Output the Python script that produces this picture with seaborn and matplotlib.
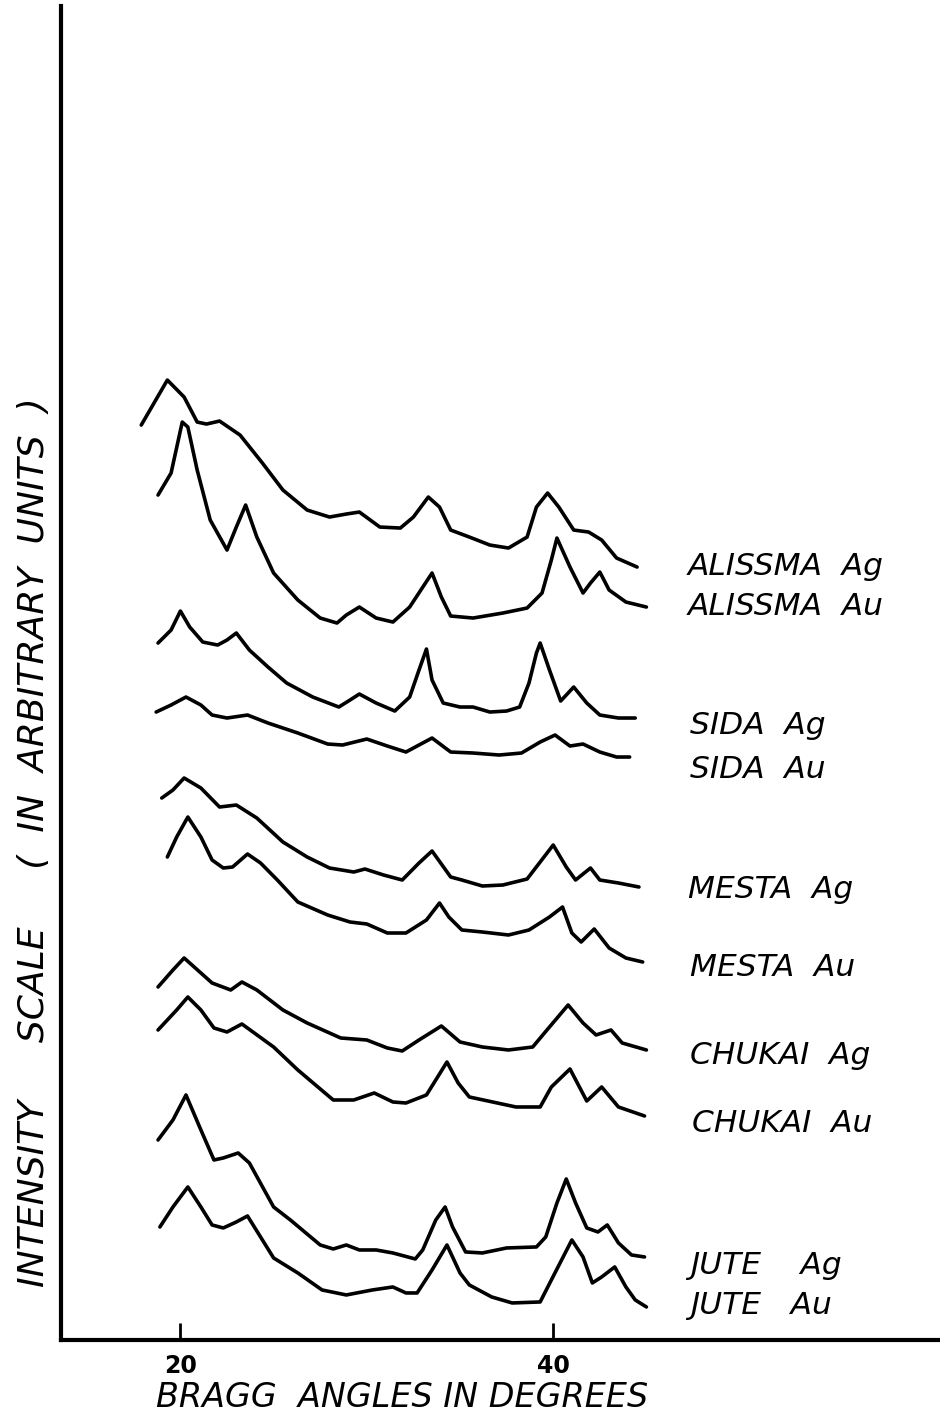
import numpy as np
import pandas as pd
import seaborn as sns
import matplotlib.pyplot as plt

sns.set_theme(style="white")
plt.rcParams['font.family'] = ['DejaVu Sans']
plt.rcParams['text.color'] = 'black'
plt.rcParams['axes.labelcolor'] = 'black'
plt.rcParams['xtick.color'] = 'black'

# Bragg Angle (Degrees) And Intensity (Arbitrary Units)
alissma_ag_angle = [17.9, 19.3, 20.2, 20.9, 21.4, 22.1, 23.2, 24.4, 25.5, 26.8, 28.0, 28.9, 29.6, 30.7, 31.8,
                    32.5, 33.3, 33.9, 34.5, 35.5, 36.6, 37.6, 38.6, 39.1, 39.7, 40.3, 41.1, 41.9, 42.6, 43.4, 44.5]
alissma_ag_int = [888, 933, 916, 891, 889, 892, 878, 850, 823, 803, 796, 799, 801, 786, 785,
                  796, 816, 806, 783, 776, 768, 765, 776, 806, 820, 806, 783, 781, 773, 755, 746]

alissma_au_angle = [18.8, 19.5, 20.1, 20.4, 20.9, 21.6, 22.5, 23.0, 23.5, 24.1, 25.0, 26.3, 27.5, 28.4, 28.9,
                    29.6, 30.5, 31.4, 32.3, 33.5, 34.0, 34.5, 35.7, 37.3, 38.6, 39.4, 39.9, 40.2, 40.9, 41.6,
                    42.0, 42.5, 43.0, 43.9, 45.0]
alissma_au_int = [818, 840, 891, 886, 843, 793, 763, 786, 808, 776, 740, 713, 695, 690, 698,
                  706, 695, 691, 706, 740, 716, 697, 695, 700, 705, 720, 753, 775, 746, 720,
                  730, 741, 723, 711, 706]

sida_ag_angle = [18.8, 19.5, 20.0, 20.5, 21.2, 22.0, 22.5, 23.0, 23.7, 24.7, 25.7, 27.1, 28.5, 29.1, 29.6,
                 30.5, 31.5, 32.3, 32.8, 33.2, 33.5, 34.1, 35.0, 35.7, 36.6, 37.5, 38.2, 38.7, 39.1, 39.3,
                 39.8, 40.4, 41.1, 41.8, 42.5, 43.5, 44.4]
sida_ag_int = [670, 683, 702, 686, 671, 668, 673, 680, 663, 646, 630, 616, 606, 613, 619,
               610, 602, 616, 643, 664, 633, 610, 606, 606, 601, 602, 606, 630, 660, 670,
               643, 612, 626, 610, 598, 595, 595]

sida_au_angle = [18.7, 19.5, 20.3, 21.1, 21.7, 22.5, 23.6, 24.7, 26.3, 27.9, 28.7, 30.0, 31.1, 32.1, 32.8,
                 33.5, 34.5, 35.7, 37.1, 38.3, 39.3, 40.1, 40.9, 41.6, 42.5, 43.4, 44.1]
sida_au_int = [601, 608, 616, 608, 598, 595, 598, 590, 580, 569, 568, 574, 567, 561, 568,
               575, 561, 560, 558, 560, 571, 578, 567, 569, 561, 556, 556]

mesta_ag_angle = [19.0, 19.6, 20.2, 21.1, 22.1, 23.0, 24.1, 25.5, 26.8, 28.0, 29.3, 29.9, 30.9, 31.9, 32.8,
                  33.5, 34.5, 35.1, 36.2, 37.3, 38.6, 39.3, 40.0, 40.7, 41.2, 42.0, 42.5, 43.5, 44.6]
mesta_ag_int = [515, 523, 535, 525, 506, 508, 495, 471, 456, 445, 441, 444, 438, 433, 450,
                462, 436, 433, 427, 428, 434, 451, 468, 446, 433, 445, 433, 430, 426]

mesta_au_angle = [19.3, 19.8, 20.4, 21.1, 21.7, 22.3, 22.8, 23.6, 24.3, 25.2, 26.3, 27.9, 29.1, 30.0, 31.1,
                  32.1, 33.2, 33.9, 34.4, 35.1, 36.2, 37.6, 38.7, 39.8, 40.5, 41.0, 41.5, 42.2, 43.0, 43.9,
                  44.8]
mesta_au_int = [456, 476, 496, 476, 453, 445, 446, 459, 450, 433, 411, 398, 391, 389, 380,
                380, 393, 410, 396, 383, 381, 378, 383, 396, 406, 380, 371, 384, 365, 355,
                351]

chukai_ag_angle = [18.8, 19.6, 20.2, 21.1, 21.7, 22.7, 23.3, 24.1, 25.5, 26.8, 28.6, 30.0, 31.1, 31.9, 32.8,
                   34.0, 35.0, 36.2, 37.6, 38.9, 39.8, 40.8, 41.6, 42.3, 43.1, 43.7, 45.0]
chukai_ag_int = [326, 343, 355, 340, 330, 323, 331, 323, 303, 290, 275, 273, 265, 262, 273,
                 287, 271, 266, 263, 266, 286, 308, 290, 278, 283, 270, 263]

chukai_au_angle = [18.8, 19.8, 20.4, 21.1, 21.8, 22.5, 23.3, 25.0, 26.3, 28.2, 29.3, 30.4, 31.4, 32.1, 33.2,
                   33.7, 34.3, 34.9, 35.5, 37.0, 38.0, 39.3, 39.9, 40.9, 41.8, 42.6, 43.5, 44.9]
chukai_au_int = [283, 303, 316, 303, 285, 281, 289, 266, 243, 213, 213, 220, 211, 210, 218,
                 233, 251, 230, 216, 210, 206, 206, 226, 244, 212, 226, 206, 197]

jute_ag_angle = [18.8, 19.6, 20.3, 21.1, 21.8, 22.3, 23.1, 23.7, 25.0, 25.9, 27.5, 28.2, 28.9, 29.6, 30.5,
                 31.4, 32.6, 33.0, 33.7, 34.2, 34.6, 35.3, 36.2, 37.5, 39.1, 39.6, 40.2, 40.7, 41.2, 41.8,
                 42.4, 42.9, 43.5, 44.2, 44.9]
jute_ag_int = [173, 193, 218, 183, 153, 155, 160, 150, 106, 93, 68, 64, 68, 63, 63,
               60, 54, 63, 93, 106, 86, 61, 60, 65, 66, 76, 110, 134, 110, 85,
               81, 88, 70, 58, 56]

jute_au_angle = [18.9, 19.6, 20.4, 21.1, 21.7, 22.3, 23.0, 23.6, 24.3, 25.0, 26.3, 27.6, 28.9, 30.3, 31.4,
                 32.1, 32.7, 33.5, 34.3, 35.0, 35.5, 36.7, 37.8, 39.3, 39.9, 41.0, 41.6, 42.1, 42.6, 43.3,
                 43.9, 44.4, 45.0]
jute_au_int = [86, 106, 126, 106, 88, 85, 91, 97, 76, 55, 40, 23, 18, 23, 26,
               20, 20, 43, 68, 40, 28, 16, 10, 11, 33, 73, 56, 30, 36, 46,
               26, 13, 6]

samples = ["ALISSMA  Ag", "ALISSMA  Au", "SIDA  Ag", "SIDA  Au", "MESTA  Ag",
           "MESTA  Au", "CHUKAI  Ag", "CHUKAI  Au", "JUTE    Ag", "JUTE   Au"]

traces = [(alissma_ag_angle, alissma_ag_int), (alissma_au_angle, alissma_au_int),
          (sida_ag_angle, sida_ag_int), (sida_au_angle, sida_au_int),
          (mesta_ag_angle, mesta_ag_int), (mesta_au_angle, mesta_au_int),
          (chukai_ag_angle, chukai_ag_int), (chukai_au_angle, chukai_au_int),
          (jute_ag_angle, jute_ag_int), (jute_au_angle, jute_au_int)]

# Long Table For Seaborn
frames = []
for name, (a, i) in zip(samples, traces):
    frames.append(pd.DataFrame({"angle": a, "intensity": i, "sample": name}))
df = pd.concat(frames, ignore_index = True)

# Set Up The Figure (940 x 1416 px)
fig = plt.figure(figsize = (9.4, 14.16), dpi = 100)
ax = fig.add_axes([0.065, 0.0537, 0.935, 0.942])

sns.lineplot(data = df, x = "angle", y = "intensity", units = "sample", estimator = None,
             sort = False, color = "black", linewidth = 2.6, ax = ax,
             solid_joinstyle = "round", solid_capstyle = "round")

ax.set_xlim(13.6, 60.75)
ax.set_ylim(-27, 1307)

# Spines: Only Left And Bottom, Drawn Heavy
for s in ["top", "right"]:
    ax.spines[s].set_visible(False)
for s in ["left", "bottom"]:
    ax.spines[s].set_linewidth(3)
    ax.spines[s].set_color("black")

ax.set_xticks([20, 40])
ax.set_xticklabels(["20", "40"], fontsize = 17, fontweight = "bold")
ax.tick_params(axis = "x", direction = "in", length = 12, width = 2, color = "black", pad = 10,
               bottom = True)
ax.set_yticks([])

ax.set_xlabel("BRAGG  ANGLES IN DEGREES", fontsize = 24, style = "italic")
ax.xaxis.set_label_coords(0.388, -0.031)
ax.set_ylabel("INTENSITY     SCALE     (  IN  ARBITRARY  UNITS  )", fontsize = 26, style = "italic")
ax.yaxis.set_label_coords(-0.012, 0.373)

# Curve Labels
label_x = [47.2, 47.2, 47.35, 47.35, 47.25, 47.35, 47.35, 47.45, 47.35, 47.35]
label_y = [738, 698, 579, 535, 415, 337, 249, 181, 39, -1]
for name, lx, ly in zip(samples, label_x, label_y):
    ax.text(lx, ly, name, fontsize = 22.5, style = "italic", ha = "left", va = "baseline")

fig.savefig("out.png", dpi = 100)
